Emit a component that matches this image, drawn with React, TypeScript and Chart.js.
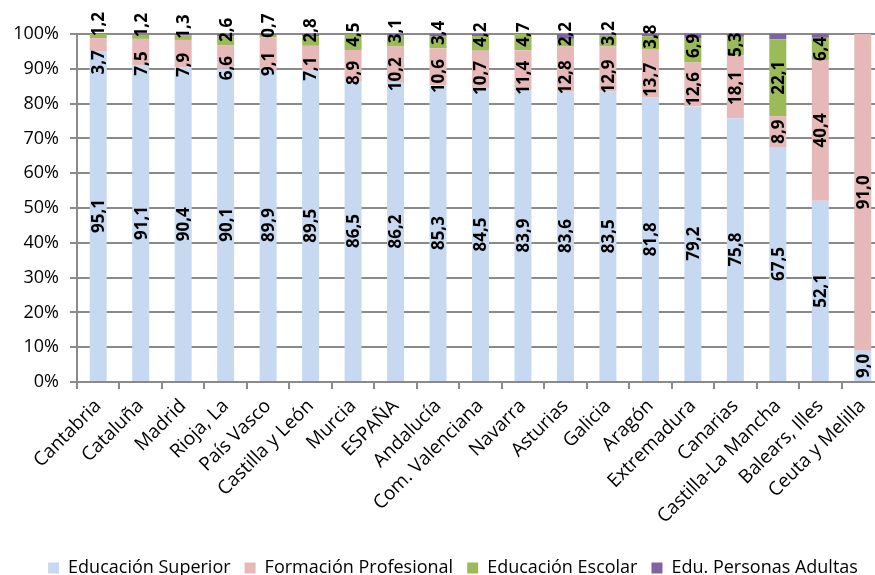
import React, { useEffect, useRef } from "react";
import { Chart, registerables } from "chart.js";

Chart.register(...registerables);

const categories = [
  "Cantabria", "Cataluña", "Madrid", "Rioja, La", "País Vasco", "Castilla y León",
  "Murcia", "ESPAÑA", "Andalucía", "Com. Valenciana", "Navarra", "Asturias",
  "Galicia", "Aragón", "Extremadura", "Canarias", "Castilla-La Mancha",
  "Balears, Illes", "Ceuta y Melilla",
];
const educacionSuperior = [95.1, 91.1, 90.4, 90.1, 89.9, 89.5, 86.5, 86.2, 85.3, 84.5, 83.9, 83.6, 83.5, 81.8, 79.2, 75.8, 67.5, 52.1, 9.0];
const formacionProfesional = [3.7, 7.5, 7.9, 6.6, 9.1, 7.1, 8.9, 10.2, 10.6, 10.7, 11.4, 12.8, 12.9, 13.7, 12.6, 18.1, 8.9, 40.4, 91.0];
const educacionEscolar = [1.2, 1.2, 1.3, 2.6, 0.7, 2.8, 4.5, 3.1, 3.4, 4.2, 4.7, 2.2, 3.2, 3.8, 6.9, 5.3, 22.1, 6.4, 0];
const personasAdultas = [0, 0.2, 0.4, 0.7, 0.3, 0.6, 0.1, 0.5, 0.7, 0.6, 0, 1.4, 0.4, 0.7, 1.3, 0.8, 1.5, 1.1, 0];
const seriesNames = ["Educación Superior", "Formación Profesional", "Educación Escolar", "Edu. Personas Adultas"];
const seriesColors = ["#c6d9f0", "#e6b9b8", "#9bbb59", "#8064a2"];
const labeledSeries = 3;

const W = 914;
const H = 575;
const PLOT_TOP = 34;
const PLOT_BOTTOM = 382;
const FONT = '"Open Sans", "Noto Sans", sans-serif';
const GRID = "#8a8a8a";

const segLabels = {
  id: "segLabels",
  afterDatasetsDraw(chart: any) {
    const ctx = chart.ctx;
    ctx.save();
    ctx.font = `bold 17px ${FONT}`;
    ctx.fillStyle = "#000";
    ctx.textAlign = "center";
    ctx.textBaseline = "middle";
    for (let i = 0; i < categories.length; i++) {
      const items: any[] = [];
      for (let d = 0; d < labeledSeries; d++) {
        const v = chart.data.datasets[d].data[i];
        if (!v) continue;
        const el = chart.getDatasetMeta(d).data[i];
        const text = Number(v).toFixed(1).replace(".", ",");
        const w = ctx.measureText(text).width;
        items.push({ text, x: el.x, c: (el.y + el.base) / 2, h: w });
      }
      items.sort((a, b) => a.c - b.c);
      const gap = 14;
      const minTop = 12;
      for (let it = 0; it < 30; it++) {
        for (let k = 0; k < items.length - 1; k++) {
          const a = items[k], b = items[k + 1];
          const need = a.h / 2 + b.h / 2 + gap;
          const dist = b.c - a.c;
          if (dist < need) {
            const s = (need - dist) / 2;
            a.c -= s;
            b.c += s;
          }
        }
        if (items.length && items[0].c - items[0].h / 2 < minTop) {
          items[0].c = minTop + items[0].h / 2;
        }
      }
      for (const it of items) {
        ctx.save();
        ctx.translate(it.x, it.c);
        ctx.rotate(-Math.PI / 2);
        ctx.fillText(it.text, 0, 1);
        ctx.restore();
      }
    }
    ctx.restore();
  },
};

const legendShift = {
  id: "legendShift",
  afterLayout(chart: any) {
    const lg = chart.legend;
    if (lg) {
      lg.left = -4;
      lg.right = W - 4;
      const shift = H - lg.bottom + 12;
      lg.top += shift;
      lg.bottom += shift;
    }
  },
};

export default function App() {
  const ref = useRef<HTMLCanvasElement>(null);
  useEffect(() => {
    if (!ref.current) return;
    const data = [educacionSuperior, formacionProfesional, educacionEscolar, personasAdultas];
    const chart = new Chart(ref.current, {
      type: "bar",
      data: {
        labels: categories,
        datasets: data.map((d, i) => ({
          label: seriesNames[i],
          data: d,
          backgroundColor: seriesColors[i],
          borderWidth: 0,
          barPercentage: 0.4,
          categoryPercentage: 1,
        })),
      },
      options: {
        responsive: false,
        animation: false,
        devicePixelRatio: 1,
        layout: { padding: { top: PLOT_TOP, right: 30, left: 0, bottom: 0 } },
        plugins: {
          tooltip: { enabled: false },
          legend: {
            position: "bottom",
            labels: {
              boxWidth: 11,
              boxHeight: 11,
              padding: 14,
              color: "#000",
              font: { family: FONT, size: 18 },
            },
          },
        },
        scales: {
          x: {
            stacked: true,
            grid: {
              display: true,
              drawOnChartArea: false,
              drawTicks: true,
              tickLength: 7,
              offset: true,
              color: GRID,
              lineWidth: 2,
            },
            border: { display: true, color: GRID, width: 2 },
            ticks: {
              autoSkip: false,
              maxRotation: 45,
              minRotation: 45,
              padding: 6,
              color: "#000",
              font: { family: FONT, size: 19 },
            },
            afterFit(scale: any) {
              const lh = scale.chart.legend ? scale.chart.legend.height : 30;
              scale.height = H - PLOT_BOTTOM - lh;
            },
          },
          y: {
            stacked: true,
            min: 0,
            max: 100,
            ticks: {
              stepSize: 10,
              padding: 11,
              color: "#000",
              font: { family: FONT, size: 18 },
              callback: (v: any) => `${v}%`,
            },
            grid: { color: GRID, lineWidth: 2, tickLength: 7, drawTicks: true },
            border: { display: true, color: GRID, width: 2 },
            afterFit(scale: any) {
              scale.width = 77;
            },
          },
        },
      },
      plugins: [segLabels, legendShift],
    });
    return () => chart.destroy();
  }, []);
  return (
    <div style={{ position: "fixed", left: 0, top: 0, width: 875, height: 575, overflow: "hidden", background: "#fff" }}>
      <canvas ref={ref} width={W} height={H} style={{ display: "block", width: W, height: H }} />
    </div>
  );
}
